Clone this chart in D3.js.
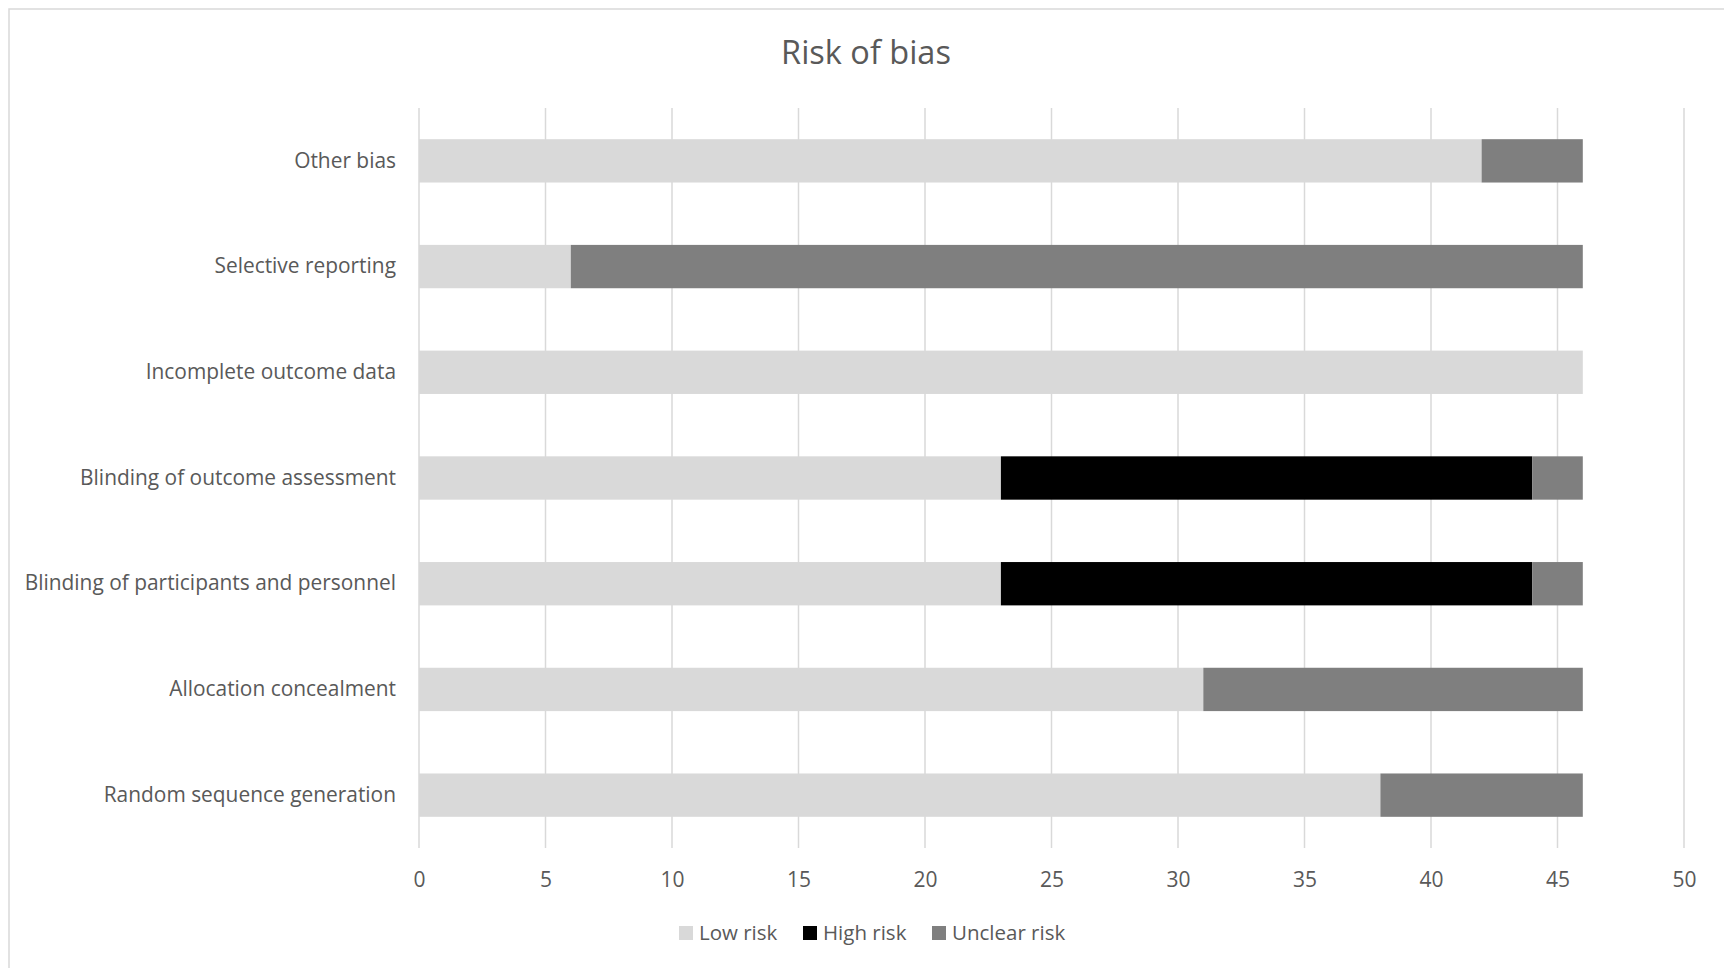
<!DOCTYPE html>
<html>
<head>
<meta charset="utf-8">
<script src="https://cdn.jsdelivr.net/npm/d3@7"></script>
<style>
  html, body { margin: 0; padding: 0; background: #fff; }
  svg { display: block; font-family: "Open Sans", sans-serif; }
</style>
</head>
<body>
<svg id="chart" width="1724" height="968"></svg>
<script>
const categories = [
  "Other bias",
  "Selective reporting",
  "Incomplete outcome data",
  "Blinding of outcome assessment",
  "Blinding of participants and personnel",
  "Allocation concealment",
  "Random sequence generation"
];
const seriesNames = ["Low risk", "High risk", "Unclear risk"];
const lowRisk     = [42, 6, 46, 23, 23, 31, 38];
const highRisk    = [0, 0, 0, 21, 21, 0, 0];
const unclearRisk = [4, 40, 0, 2, 2, 15, 8];
const xTicks = [0, 5, 10, 15, 20, 25, 30, 35, 40, 45, 50];
const colors = ["#d9d9d9", "#000000", "#7f7f7f"];
const title = "Risk of bias";

const svg = d3.select("#chart");
const W = 1724, H = 968;

// chart border (extends beyond the window on right/bottom)
svg.append("rect")
  .attr("x", 9).attr("y", 9)
  .attr("width", W + 20).attr("height", H + 20)
  .attr("fill", "#fff").attr("stroke", "#d9d9d9").attr("stroke-width", 1.5);

const plot = { left: 419, right: 1684, top: 108, bottom: 848 };

const x = d3.scaleLinear().domain([0, 50]).range([plot.left, plot.right]);
const y = d3.scaleBand().domain(categories)
  .range([plot.top, plot.bottom])
  .paddingInner(0.59).paddingOuter(0.295);

// gridlines
svg.append("g").selectAll("line").data(xTicks).join("line")
  .attr("x1", d => x(d)).attr("x2", d => x(d))
  .attr("y1", plot.top).attr("y2", plot.bottom)
  .attr("stroke", "#d9d9d9").attr("stroke-width", 1.5);

// stacked data
const rows = categories.map((c, i) => ({
  category: c,
  "Low risk": lowRisk[i],
  "High risk": highRisk[i],
  "Unclear risk": unclearRisk[i]
}));
const stack = d3.stack().keys(seriesNames)(rows);

svg.append("g").selectAll("g").data(stack).join("g")
  .attr("fill", (d, i) => colors[i])
  .selectAll("rect").data(d => d.filter(s => s[1] > s[0])).join("rect")
  .attr("x", d => x(d[0]))
  .attr("width", d => x(d[1]) - x(d[0]))
  .attr("y", d => y(d.data.category))
  .attr("height", y.bandwidth());

// category labels (y axis)
const yAxis = d3.axisLeft(y).tickSize(0).tickPadding(23);
const yg = svg.append("g").attr("transform", `translate(${plot.left},0)`).call(yAxis);
yg.select(".domain").remove();
yg.selectAll("text")
  .attr("fill", "#595959")
  .style("font-size", "20.9px")
  .style("font-family", '"Open Sans", sans-serif');

// x axis labels
const xAxis = d3.axisBottom(x).tickValues(xTicks).tickSize(0).tickPadding(0);
const xg = svg.append("g").attr("transform", `translate(0,880)`).call(xAxis);
xg.select(".domain").remove();
xg.selectAll("text")
  .attr("dy", "0.35em")
  .attr("fill", "#595959")
  .style("font-size", "21px")
  .style("font-family", '"Open Sans", sans-serif');

// title
svg.append("text")
  .attr("x", 866).attr("y", 53)
  .attr("text-anchor", "middle").attr("dy", "0.35em")
  .attr("fill", "#595959")
  .style("font-size", "32.5px")
  .text(title);

// legend
const legendX = [679, 803, 932];
const lg = svg.append("g").selectAll("g").data(seriesNames).join("g")
  .attr("transform", (d, i) => `translate(${legendX[i]},933)`);
lg.append("rect")
  .attr("x", 0).attr("y", -7).attr("width", 14).attr("height", 14)
  .attr("fill", (d, i) => colors[i]);
lg.append("text")
  .attr("x", 20).attr("dy", "0.35em")
  .attr("fill", "#595959")
  .style("font-size", "20.5px")
  .text(d => d);
</script>
</body>
</html>
